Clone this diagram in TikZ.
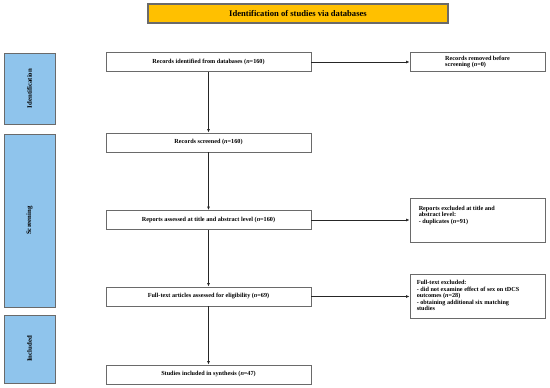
\documentclass[tikz,border=0pt]{standalone}
\usepackage{fontspec}
\setmainfont{Liberation Serif}
\usepackage{tikz}
\usetikzlibrary{arrows.meta, positioning}
\definecolor{bannergold}{HTML}{FFC000}
\definecolor{phaseblue}{HTML}{8FC4EC}
\definecolor{boxgray}{HTML}{6A6A6A}

\begin{document}
\begin{tikzpicture}[x=1pt, y=-1pt,
  flowbox/.style={draw=boxgray, line width=0.9pt, fill=white, minimum width=205pt,
    minimum height=19pt, inner sep=0pt, font=\fontsize{6.2}{7}\selectfont\bfseries},
  sidebox/.style={draw=boxgray, line width=0.9pt, fill=white, minimum width=135pt,
    inner sep=0pt},
  sidetext/.style={align=left, inner sep=0pt, font=\fontsize{6.2}{6.6}\selectfont\bfseries},
  phase/.style={draw=boxgray, line width=0.9pt, fill=phaseblue, rotate=90,
    minimum height=51pt, inner sep=0pt, font=\fontsize{6.8}{7}\selectfont\bfseries},
  flow/.style={-{Latex[length=3.5pt,width=3pt]}, line width=0.8pt, draw=black!85}]
  \useasboundingbox (0,0) rectangle (550,388);
  %% Banner
  \node[draw=boxgray, line width=1.2pt, fill=bannergold, minimum width=300pt,
    minimum height=19pt, inner sep=0pt, font=\fontsize{8.6}{9}\selectfont\bfseries]
    (banner) at (298,13.5) {Identification of studies via databases};
  %% Phases on the left
  \node[phase, minimum width=71pt] (identph) at (29.5,88.5) {Identification};
  \node[phase, minimum width=173pt] (screenph) at (29.5,220.5) {Screening};
  \node[phase, minimum width=68pt] (inclph) at (29.5,349) {Included};
  %% Main flow
  \node[flowbox] (ident) at (208.5,62) {Records identified from databases (\textit{n}=160)};
  \node[flowbox] (screen) at (208.5,142.5) {Records screened (\textit{n}=160)};
  \node[flowbox] (abstr) at (208.5,220) {Reports assessed at title and abstract level (\textit{n}=160)};
  \node[flowbox] (fulltext) at (208.5,296.5) {Full-text articles assessed for eligibility (\textit{n}=69)};
  \node[flowbox] (incl) at (208.5,374.5) {Studies included in synthesis (\textit{n}=47)};
  %% Exclusions on the right
  \node[sidebox, minimum height=19pt, sidetext] (removed) at (477.5,62)
    {Records removed before\\screening (\textit{n}=0)};
  \node[sidebox, minimum height=44pt] (abstrexcl) at (477.5,220) {};
  \node[sidetext, anchor=north west] (abstrtxt) at ([xshift=9pt,yshift=-8pt]abstrexcl.north west)
    {Reports excluded at title and\\abstract level:\\- duplicates (\textit{n}=91)};
  \node[sidebox, minimum height=44pt] (fullexcl) at (477.5,296.5) {};
  \node[sidetext, anchor=north west] (fulltxt) at ([xshift=7pt,yshift=-6pt]fullexcl.north west)
    {Full-text excluded:\\- did not examine effect of sex on tDCS\\outcomes (\textit{n}=28)\\- obtaining additional six matching\\studies};
  %% Arrows
  \draw[flow] (ident) -- (screen);
  \draw[flow] (screen) -- (abstr);
  \draw[flow] (abstr) -- (fulltext);
  \draw[flow] (fulltext) -- (incl);
  \draw[flow] (ident) -- (removed);
  \draw[flow] (abstr) -- (abstrexcl);
  \draw[flow] (fulltext) -- (fullexcl);
\end{tikzpicture}
\end{document}
